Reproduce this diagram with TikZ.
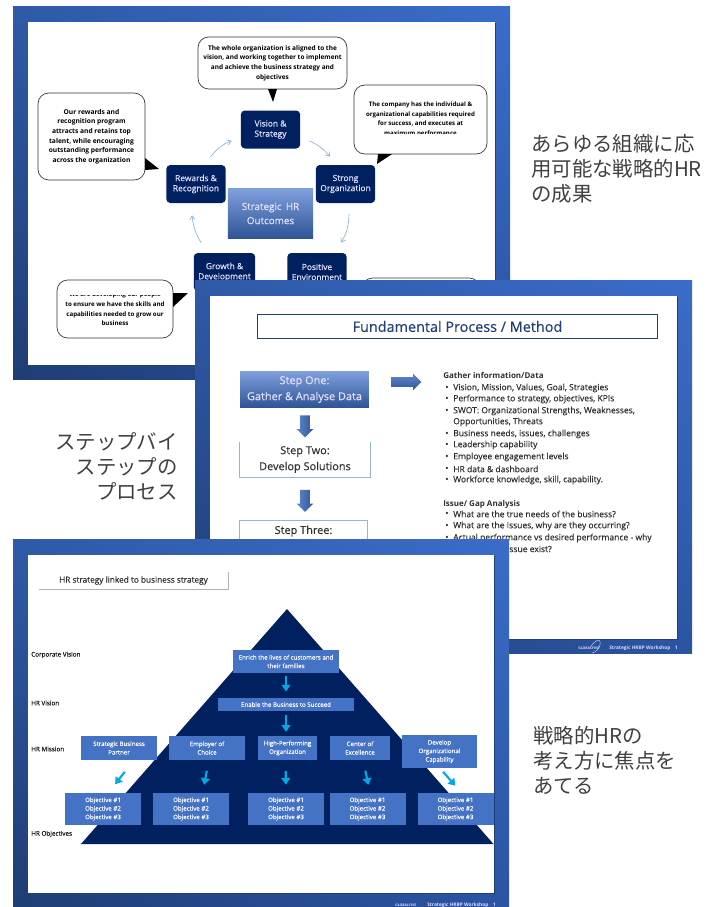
\documentclass[tikz,border=0pt]{standalone}
\usepackage{fontspec}
\setmainfont{Open Sans}
\newfontfamily\cjk{Noto Sans CJK JP}
\newfontfamily\medfont[FakeBold=0.25]{Open Sans}
\usetikzlibrary{arrows.meta,shapes.arrows,shadings}
\definecolor{navybox}{HTML}{002060}
\definecolor{midblue}{HTML}{4472C4}
\definecolor{skyblue}{HTML}{00A9E8}
\definecolor{ringblue}{HTML}{8FB2E0}
\definecolor{titleblue}{HTML}{1F3F78}
\definecolor{bodygray}{HTML}{303030}
\definecolor{frameur}{HTML}{3A6CC9}
\definecolor{frameul}{HTML}{2F5AA8}
\definecolor{framell}{HTML}{1F3D75}
\definecolor{framelr}{HTML}{2B55A3}
\definecolor{gradtop}{HTML}{7F9FDC}
\definecolor{gradbot}{HTML}{2F5496}
\tikzset{
  slideframe/.style={lower left=framell,upper right=frameur,upper left=frameul,lower right=framelr},
  speech/.style={draw=black!80,rounded corners=8pt,fill=white,line width=0.5pt,align=center,font=\fontsize{#1}{7.2}\selectfont\bfseries},
  outcome/.style={fill=navybox,rounded corners=3pt,text=white!90!blue,align=center,font=\fontsize{6.3}{7.6}\selectfont\medfont},
  ringarrow/.style={ringblue,line width=0.5pt,-{Straight Barb[length=3pt,width=4pt]}},
  gradbox/.style={top color=gradtop,bottom color=gradbot,text=white!90!blue,align=center},
  stepbox/.style={draw=midblue!55!white,line width=0.7pt,fill=white,text=bodygray,align=center,font=\fontsize{8.2}{12}\selectfont\medfont},
  pyrbox/.style={fill=midblue,text=white,align=center,font=\fontsize{4.6}{6.4}\selectfont\medfont},
  skyarrow/.style={skyblue,line width=1.6pt,-{Triangle[length=5pt,width=6.5pt]}},
  bigarrow/.style={single arrow,minimum width=12pt,single arrow head extend=2.6pt,inner sep=3.4pt,top color=midblue!85!white,bottom color=gradbot},
  listline/.style={anchor=west,text=bodygray,font=\fontsize{6.4}{7}\selectfont\medfont},
  sidelabel/.style={anchor=west,font=\fontsize{4.75}{6}\selectfont\medfont,text=black!90},
  jptext/.style={text=black!75,align=left,font=\fontsize{15.3}{18.75}\selectfont\cjk},
  footer/.style={anchor=west,text=white!85!blue,font=\fontsize{3.6}{4}\selectfont\bfseries}
}
\newcommand{\slidebg}[4]{%
  \shade[slideframe] (#1,#2) rectangle (#3,#4);
  \fill[titleblue] (#1+15.5,#2+16.5) rectangle (#3-14.5,#4-13.5);
  \fill[white] (#1+15,#2+16) rectangle (#3-15,#4-14);
}
\begin{document}
\begin{tikzpicture}[x=0.75pt,y=-0.75pt]
  \useasboundingbox (0,0) rectangle (721,907);
  % First slide, the outcomes ring
  \slidebg{13}{6}{510}{379}
  \node[speech=4.85,minimum width=111.7pt,minimum height=39pt] (aligned) at (272.5,63) {The whole organization is aligned to the\\vision, and working together to implement\\and achieve the business strategy and\\objectives};
  \node[speech=4.6,minimum width=99.7pt,minimum height=51.7pt] (capable) at (420.5,119.5) {The company has the individual \&\\organizational capabilities required\\for success, and executes at\\maximum performance};
  \node[speech=5,minimum width=80.2pt,minimum height=65.2pt] (rewarded) at (91.5,136.5) {Our rewards and\\recognition program\\attracts and retains top\\talent, while encouraging\\outstanding performance\\across the organization};
  \node[speech=4.65,minimum width=87pt,minimum height=43.5pt] (developing) at (115,309) {We are developing our people\\to ensure we have the skills and\\capabilities needed to grow our\\business};
  \node[speech=5,minimum width=88.5pt,minimum height=30pt] (engaged) at (421,298) {};
  % these two texts are cut off in the slide
  \fill[white] (362,133.5) rectangle (480,146);
  \fill[white] (66,284) rectangle (166,294.7);
  % pointers of the speech boxes
  \fill (268,89) -- (277,89) -- (273,102) -- cycle;
  \fill (378,154) -- (392,154) -- (377,164) -- cycle;
  \fill (145,158) -- (145,170) -- (159,169) -- cycle;
  \fill (173,293) -- (188,293) -- (173,307) -- cycle;
  % The five outcomes
  \foreach \pos/\name/\txt in {{(270.5,129.5)/vision/Vision \&\\Strategy}, {(345.5,184)/strong/Strong\\Organization}, {(196,184)/rewards/Rewards \&\\Recognition}, {(224.5,272)/growth/Growth \&\\Development}, {(317,272)/positive/Positive\\Environment}}
    \node[outcome,minimum width=44.5pt,minimum height=28.5pt] (\name) at \pos {\txt};
  \node[gradbox,minimum width=64pt,minimum height=37pt,font=\fontsize{7.4}{10.6}\selectfont\medfont] (centre) at (270.5,213.5) {Strategic\, HR\\Outcomes};
  % Connect the outcomes
  \draw[ringarrow,bend left=12] ([xshift=6.7pt,yshift=6pt]vision.south east) to ([xshift=-11.6pt,yshift=6pt]strong.north);
  \draw[ringarrow,bend left=15] ([xshift=2.6pt,yshift=-8pt]strong.south) to ([xshift=18pt,yshift=7.5pt]positive.north);
  \draw[ringarrow,bend left=12] ([xshift=-17.6pt,yshift=7.5pt]growth.north) to ([xshift=-3pt,yshift=-9pt]rewards.south);
  \draw[ringarrow,bend left=15] ([xshift=11pt,yshift=6pt]rewards.north) to ([xshift=-6.7pt,yshift=6pt]vision.south west);

  % Second slide, the process steps
  \slidebg{195}{280}{692}{653}
  \node[draw=titleblue,line width=0.6pt,fill=white,text=titleblue,minimum width=300.5pt,minimum height=18.5pt,font=\fontsize{10.8}{12}\selectfont\medfont] (method) at (457.5,326.5) {Fundamental Process / Method};
  \node[gradbox,minimum width=96.5pt,minimum height=26pt,font=\fontsize{8.2}{12}\selectfont\medfont] (stepone) at (304.5,389.5) {Step One:\\Gather \& Analyse Data};
  \node[font=\fontsize{8.2}{12}\selectfont\medfont,text=bodygray,align=center,minimum width=97.5pt,minimum height=26pt] (steptwo) at (305,459.5) {Step Two:\\Develop Solutions};
  \draw[midblue!55!white,line width=0.7pt] (steptwo.north west) -- (steptwo.south west) -- (steptwo.south east) -- (steptwo.north east);
  \node[stepbox,minimum width=96.5pt,minimum height=26pt,anchor=north] (stepthree) at (303.5,520) {Step Three:\\ };
  \node[bigarrow,minimum height=22.5pt] (gatherarrow) at (404,382) {};
  \node[bigarrow,minimum height=16.5pt,rotate=-90,left color=midblue!85!white,right color=gradbot] (firstarrow) at (305,424) {};
  \node[bigarrow,minimum height=16.5pt,rotate=-90,left color=midblue!85!white,right color=gradbot] (secondarrow) at (305,498.5) {};
  % The two lists
  \node[listline,font=\fontsize{6}{7}\selectfont\bfseries,inner sep=0pt] (gather) at (443,375) {Gather information/Data};
  \node[listline,font=\fontsize{6}{7}\selectfont\bfseries,inner sep=0pt] (issue) at (443,504) {Issue/ Gap Analysis};
  \foreach \ypos/\txt in {388/{Vision, Mission, Values, Goal, Strategies}, 399/{Performance to strategy, objectives, KPIs}, 411/{SWOT: Organizational Strengths, Weaknesses,}, 434/{Business needs, issues, challenges}, 445/{Leadership capability}, 457/{Employee engagement levels}, 469/{HR data \& dashboard}, 480/{Workforce knowledge, skill, capability.}, 514/{What are the true needs of the business?}, 526/{What are the Issues, why are they occurring?}, 538/{Actual performance vs desired performance - why}}{
    \node[listline,inner sep=0pt] at (445,\ypos) {\textbullet};
    \node[listline,inner sep=0pt] at (453,\ypos) {\txt};
  }
  \node[listline,inner sep=0pt] (opportunities) at (453,422) {Opportunities, Threats};
  \node[listline,inner sep=0pt,anchor=east] (exist) at (552,549) {issue exist?};
  \node[footer,inner sep=0pt] (workshop) at (609,648) {Strategic HRBP Workshop\quad 1};
  \node[footer,font=\fontsize{2.6}{3}\selectfont\bfseries,inner sep=0pt] (brandtwo) at (578,648) {GLOBALFIVE};
  \draw[white!85!blue,line width=0.3pt] (592,653) .. controls (600,651) and (602,642) .. (599,640) .. controls (596,640) and (592,644) .. (590,648);

  % Third slide, the pyramid
  \slidebg{13}{539}{509}{907}
  \node[fill=white,minimum width=141.7pt,minimum height=12.7pt,font=\fontsize{6.2}{8}\selectfont\medfont,text=bodygray] (hrstrategy) at (133.5,580.5) {HR strategy linked to business strategy};
  \draw[black!30,line width=0.6pt] (hrstrategy.north east) -- (hrstrategy.south east) -- (hrstrategy.south west);
  \fill[navybox] (287,609) -- (493.5,844) -- (81,844) -- cycle;
  \foreach \ypos/\name/\txt in {655/corporate/Corporate Vision, 703/hrvision/HR Vision, 749/hrmission/HR Mission, 834/hrobjectives/HR Objectives}
    \node[sidelabel,inner sep=0pt] (\name) at (31,\ypos) {\txt};
  \node[pyrbox,minimum width=79.5pt,minimum height=15.7pt] (enrich) at (286,661.5) {Enrich the lives of customers and\\their families};
  \node[pyrbox,minimum width=102pt,minimum height=9.7pt] (enable) at (286,704.5) {Enable the Business to Succeed};
  \foreach \pos/\name/\wide/\high/\txt in {{(119,748)/partner/57/18/Strategic Business\\Partner}, {(207,748)/employer/57/18/Employer of\\Choice}, {(287.5,748)/highperf/44/18/High-Performing\\Organization}, {(360,748)/excellence/45/18/Center of\\Excellence}, {(439.5,751.5)/capability/56.5/23.5/Develop\\Organizational\\Capability}}
    \node[pyrbox,minimum width=\wide pt,minimum height=\high pt] (\name) at \pos {\txt};
  \foreach \xpos/\name in {103/objone, 191/objtwo, 286/objthree, 367.5/objfour, 455.5/objfive}
    \node[pyrbox,minimum width=57pt,minimum height=23pt] (\name) at (\xpos,809) {Objective \#1\\Objective \#2\\Objective \#3};
  % Connect the levels
  \draw[skyarrow,shorten <=2pt,shorten >=4.5pt] (enrich) -- (enable);
  \draw[skyarrow,shorten <=2.5pt,shorten >=3pt] (enable) -- (highperf.north -| enable);
  \foreach \source/\dest/\sx/\dx/\sa/\da in {partner/objone/11pt/4.2pt/11pt/8pt, employer/objtwo/1.4pt/8.7pt/8pt/6pt, highperf/objthree/-1.5pt/0pt/8pt/6pt, excellence/objfour/2.3pt/1.9pt/8pt/6pt, capability/objfive/0pt/4.5pt/4pt/7pt}
    \draw[skyarrow,shorten <=\sa,shorten >=\da] ([xshift=\sx]\source.south) -- ([xshift=\dx]\dest.north);
  \node[footer,inner sep=0pt] (workshopthree) at (427,905) {Strategic HRBP Workshop\quad 1};
  \node[footer,font=\fontsize{2.6}{3}\selectfont\bfseries,inner sep=0pt] (brandthree) at (395,905) {GLOBALFIVE};

  % Notes beside the slides
  \node[jptext,anchor=north west,inner sep=0pt] (noteone) at (531,134) {あらゆる組織に応\\用可能な戦略的HR\\の成果};
  \node[jptext,anchor=north east,inner sep=0pt,align=right] (notetwo) at (178,432.5) {ステップバイ\\ステップの\\プロセス};
  \node[jptext,anchor=north west,inner sep=0pt] (notethree) at (533,726) {戦略的HRの\\考え方に焦点を\\あてる};
\end{tikzpicture}
\end{document}
